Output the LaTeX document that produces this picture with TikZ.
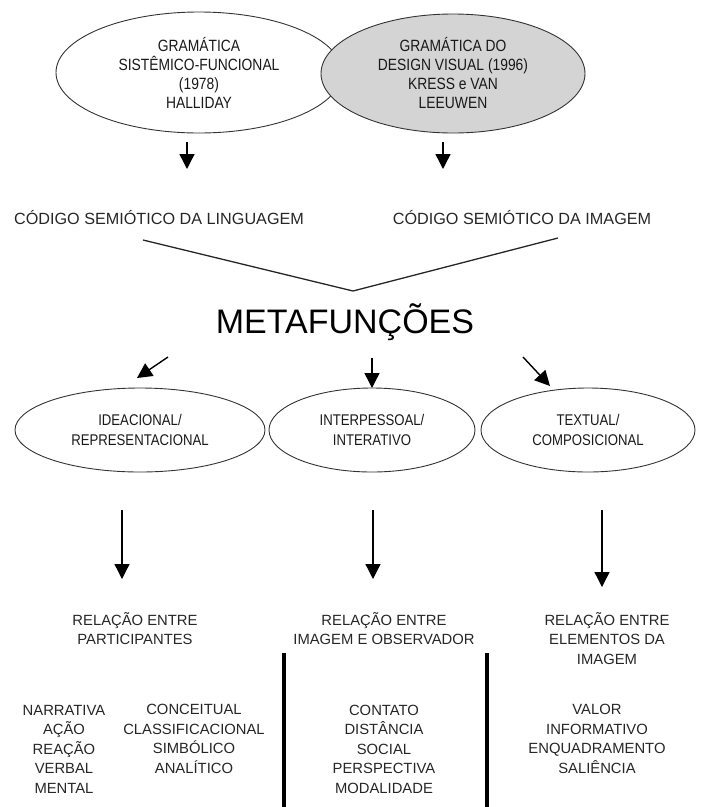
\documentclass[tikz,border=0pt]{standalone}
\usepackage{fontspec}
\setmainfont{Liberation Sans}
\newfontfamily\narrowfont{Liberation Sans}[FakeStretch=0.85]
\usetikzlibrary{arrows.meta,shapes.geometric}
\begin{document}
\begin{tikzpicture}[x=1pt,y=-1pt,
  ovalbox/.style={ellipse,draw=black!80,line width=0.9pt,inner sep=0pt,align=center,text=black!90},
  topfont/.style={font=\narrowfont\fontsize{16.3}{19}\selectfont},
  midfont/.style={font=\narrowfont\fontsize{15.5}{20}\selectfont},
  label/.style={align=center,inner sep=0pt,text=black!85,font=\fontsize{14.8}{19.5}\selectfont},
  codefont/.style={inner sep=0pt,text=black!85,font=\fontsize{16.2}{19}\selectfont},
  arr/.style={line width=1.4pt,-{Triangle[width=15pt,length=15pt]}},
  longarr/.style={line width=1.3pt,-{Triangle[width=15pt,length=15pt]}},
  sep/.style={line width=4pt}]
\useasboundingbox (0,0) rectangle (703,807);
% top ellipses
\node[ovalbox,topfont,minimum width=286pt,minimum height=121pt] (e1) at (199,72.5)
  {GRAMÁTICA\\SISTÊMICO-FUNCIONAL\\(1978)\\HALLIDAY};
\node[ovalbox,topfont,fill=black!17,minimum width=264pt,minimum height=119pt] (e2) at (453,73.5)
  {GRAMÁTICA DO\\DESIGN VISUAL (1996)\\KRESS e VAN\\LEEUWEN};
% small arrows
\coordinate (a1s) at (187,142); \coordinate (a1e) at (187,169);
\coordinate (a2s) at (443,142); \coordinate (a2e) at (443,169);
\draw[arr] (a1s) -- (a1e);
\draw[arr] (a2s) -- (a2e);
% codes
\node[codefont] (c1) at (159,218) {CÓDIGO SEMIÓTICO DA LINGUAGEM};
\node[codefont] (c2) at (522,218) {CÓDIGO SEMIÓTICO DA IMAGEM};
% V
\coordinate (v1) at (143,240); \coordinate (v0) at (353,291); \coordinate (v2) at (558,238);
\draw[line width=1.3pt,black!85] (v1) -- (v0) -- (v2);
% metafuncoes
\node[inner sep=0pt,text=black,font=\fontsize{34}{38}\selectfont] (meta) at (345,322) {METAFUNÇÕES};
% arrows to metafunctions
\coordinate (b1s) at (168,357); \coordinate (b1e) at (137,378);
\coordinate (b2s) at (372,358); \coordinate (b2e) at (372,388);
\coordinate (b3s) at (523,357); \coordinate (b3e) at (550,386);
\draw[arr] (b1s) -- (b1e);
\draw[arr] (b2s) -- (b2e);
\draw[arr] (b3s) -- (b3e);
% metafunction ellipses
\node[ovalbox,midfont,minimum width=250pt,minimum height=84pt] (i1) at (140,430) {IDEACIONAL/\\REPRESENTACIONAL};
\node[ovalbox,midfont,minimum width=206pt,minimum height=84pt] (i2) at (372,430) {INTERPESSOAL/\\INTERATIVO};
\node[ovalbox,midfont,minimum width=214pt,minimum height=84pt] (i3) at (588,430) {TEXTUAL/\\COMPOSICIONAL};
% long arrows
\coordinate (d1s) at (122,510); \coordinate (d1e) at (122,579);
\coordinate (d2s) at (373,510); \coordinate (d2e) at (373,579);
\coordinate (d3s) at (602,510); \coordinate (d3e) at (602,587);
\draw[longarr] (d1s) -- (d1e);
\draw[longarr] (d2s) -- (d2e);
\draw[longarr] (d3s) -- (d3e);
% relation texts
\node[label] (r1) at (135,628.5) {RELAÇÃO ENTRE\\PARTICIPANTES};
\node[label] (r2) at (384,628.5) {RELAÇÃO ENTRE\\IMAGEM E OBSERVADOR};
\node[label] (r3) at (607,638.5) {RELAÇÃO ENTRE\\ELEMENTOS DA\\IMAGEM};
% separators
\coordinate (s1t) at (284,653); \coordinate (s1b) at (284,807);
\coordinate (s2t) at (487,653); \coordinate (s2b) at (487,807);
\draw[sep] (s1t) -- (s1b);
\draw[sep] (s2t) -- (s2b);
% lists
\node[label] (l1) at (64,749) {NARRATIVA\\AÇÃO\\REAÇÃO\\VERBAL\\MENTAL};
\node[label] (l2) at (194,739) {CONCEITUAL\\CLASSIFICACIONAL\\SIMBÓLICO\\ANALÍTICO};
\node[label] (l3) at (384,749) {CONTATO\\DISTÂNCIA\\SOCIAL\\PERSPECTIVA\\MODALIDADE};
\node[label] (l4) at (597,739) {VALOR\\INFORMATIVO\\ENQUADRAMENTO\\SALIÊNCIA};
\end{tikzpicture}
\end{document}
